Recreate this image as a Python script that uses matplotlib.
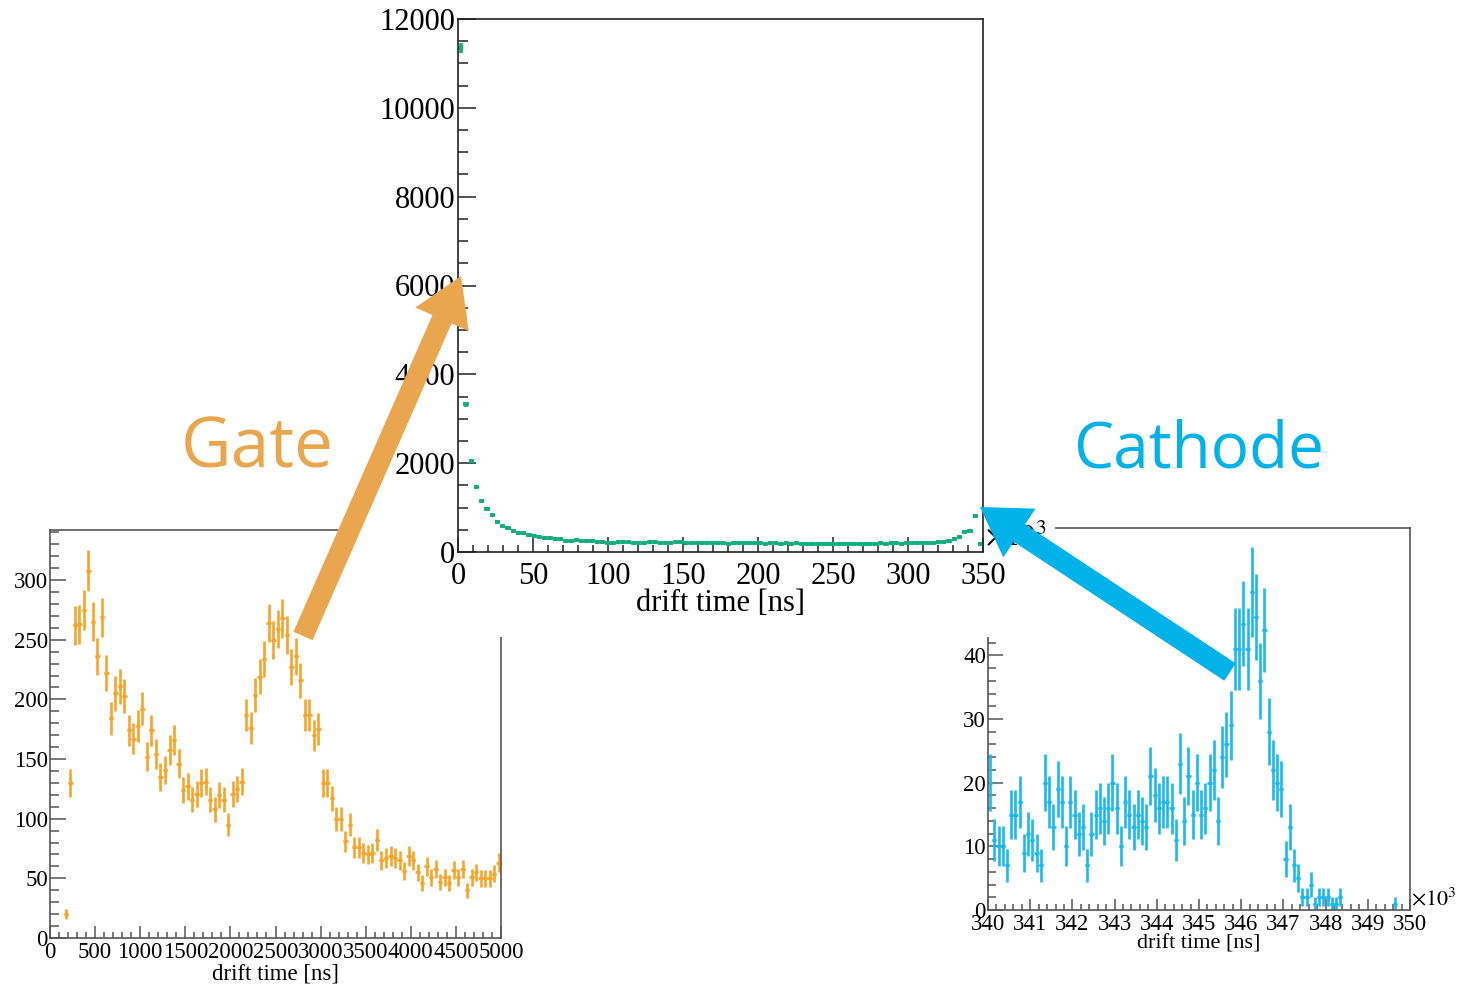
import matplotlib.pyplot as plt
import matplotlib.patches as mpatches
import numpy as np

plt.rcParams['font.family'] = 'Liberation Serif'
plt.rcParams['mathtext.fontset'] = 'stix'

# all three histograms have 100 bins
# main: drift time 0 - 350 (x10^3 ns)
main_counts = [11350, 3330, 2050, 1470, 1155, 970, 826, 668, 585, 533,
               480, 420, 420, 375, 360, 345, 323, 308, 300, 285,
               250, 248, 270, 255, 248, 255, 232, 235, 205, 210,
               222, 232, 222, 210, 200, 205, 215, 225, 212, 200,
               205, 215, 218, 210, 198, 200, 210, 205, 195, 208,
               200, 190, 198, 210, 200, 192, 205, 198, 188, 200,
               195, 185, 192, 188, 195, 185, 180, 190, 186, 178,
               185, 190, 180, 175, 185, 178, 182, 190, 185, 180,
               192, 188, 200, 195, 190, 205, 198, 192, 210, 200,
               205, 215, 235, 255, 290, 345, 440, 475, 810, 190]

# gate: drift time 0 - 5000 ns
gate_counts = [0, 0, 0, 20, 130, 262, 263, 275, 308, 265,
               236, 269, 222, 184, 205, 211, 203, 174, 167, 178,
               192, 152, 174, 154, 135, 141, 158, 166, 146, 124,
               127, 116, 121, 130, 131, 116, 108, 120, 116, 95,
               121, 125, 131, 187, 176, 204, 219, 234, 264, 250,
               259, 268, 254, 227, 236, 216, 187, 187, 170, 175,
               130, 130, 117, 100, 100, 81, 95, 76, 76, 71,
               70, 71, 82, 65, 67, 69, 67, 65, 56, 69,
               65, 55, 46, 60, 51, 58, 47, 51, 46, 57,
               51, 58, 40, 51, 55, 50, 50, 50, 54, 63]

# cathode: drift time 340 - 350 (x10^3 ns)
cath_counts = [20, 11, 10, 10, 7, 15, 15, 17, 9, 12,
               11, 9, 7, 20, 17, 13, 19, 17, 10, 17,
               15, 12, 13, 7, 12, 15, 16, 14, 16, 20,
               16, 10, 17, 15, 13, 15, 14, 13, 21, 18,
               16, 17, 17, 16, 11, 23, 14, 21, 15, 20,
               15, 16, 20, 22, 14, 24, 26, 29, 41, 41,
               45, 41, 50, 46, 36, 44, 28, 22, 20, 19,
               8, 13, 7, 5, 2, 2, 4, 1, 2, 2,
               2, 1, 1, 2, 0, 0, 0, 0, 0, 0,
               0, 0, 0, 0, 0, 0, 1, 0, 0, 0]

main_color = '#14ae7e'
gate_color = '#f6a52c'
cath_color = '#1bb9ec'
gate_arrow = '#e9a64e'
cath_arrow = '#00b2e8'

W, H = 1457.0, 989.0
fig = plt.figure(figsize=(W / 100, H / 100), dpi=100)


# pixel box (left, top, right, bottom) -> figure fraction rect
def frac(l, t, r, b):
    return [l / W, 1 - b / H, (r - l) / W, (b - t) / H]


def draw_hist(ax, lo, hi, counts, color, lw, ms, marker='o'):
    counts = np.array(counts, dtype=float)
    edges = np.linspace(lo, hi, len(counts) + 1)
    centers = 0.5 * (edges[:-1] + edges[1:])
    half = 0.5 * (edges[1] - edges[0])
    m = counts > 0
    ax.errorbar(centers[m], counts[m], yerr=np.sqrt(counts[m]), xerr=half,
                fmt=marker, color=color, ms=ms, mew=0, elinewidth=lw, capsize=0)
    ax.set_xlim(lo, hi)


def style(ax, fs, xmaj, xmin, ymaj, ymin, spine_col, xpad, ypad):
    for s in ax.spines.values():
        s.set_color(spine_col)
        s.set_linewidth(1.2)
    ax.tick_params(which='both', direction='in', top=False, right=False,
                   color=spine_col, width=1.1, labelsize=fs)
    ax.tick_params(axis='x', which='major', length=xmaj, pad=xpad)
    ax.tick_params(axis='x', which='minor', length=xmin)
    ax.tick_params(axis='y', which='major', length=ymaj, pad=ypad)
    ax.tick_params(axis='y', which='minor', length=ymin)


# gate histogram (bottom left)
ax_g = fig.add_axes(frac(50, 530, 501, 938))
ax_g.set_zorder(0)
draw_hist(ax_g, 0, 5000, gate_counts, gate_color, 1.9, 3)
ax_g.set_ylim(0, 342)
ax_g.set_xticks(np.arange(0, 5001, 500))
ax_g.set_xticks(np.arange(0, 5001, 100), minor=True)
ax_g.set_yticks(np.arange(0, 301, 50))
ax_g.set_yticks(np.arange(0, 341, 10), minor=True)
style(ax_g, 16.5, 8.6, 4.3, 11.5, 6.5, '#555555', 3, 1.5)
ax_g.set_xlabel('drift time [ns]', fontsize=16.5)
ax_g.xaxis.set_label_coords(0.5, -0.062)

# cathode histogram (bottom right)
ax_c = fig.add_axes(frac(988, 528, 1410, 910))
ax_c.set_zorder(0)
draw_hist(ax_c, 340, 350, cath_counts, cath_color, 1.9, 3)
ax_c.set_ylim(0, 60)
ax_c.set_xticks(np.arange(340, 351, 1))
ax_c.set_xticks(np.arange(340, 350.01, 0.2), minor=True)
ax_c.set_yticks(np.arange(0, 61, 10))
ax_c.set_yticks(np.arange(0, 61, 2), minor=True)
style(ax_c, 16.5, 8, 4, 11, 6, '#555555', 3, 1.5)
ax_c.set_xlabel('drift time [ns]', fontsize=16)
ax_c.xaxis.set_label_coords(0.5, -0.065)
ax_c.text(1.003, 0.0, r'$\times10^{3}$', transform=ax_c.transAxes,
          fontsize=16, ha='left', va='bottom')

# white sheet behind the main histogram, hides parts of the small plots
cover = mpatches.Rectangle((338 / W, 1 - 637 / H), (1055 - 338) / W, 637 / H,
                           transform=fig.transFigure, facecolor='white',
                           edgecolor='none', zorder=1)
fig.add_artist(cover)

# main histogram (top centre)
ax_m = fig.add_axes(frac(458, 19, 983, 552))
ax_m.set_zorder(2)
draw_hist(ax_m, 0, 350, main_counts, main_color, 2.6, 3.4, marker='s')
ax_m.set_ylim(0, 12000)
ax_m.set_xticks(np.arange(0, 351, 50))
ax_m.set_xticks(np.arange(0, 351, 10), minor=True)
ax_m.set_yticks(np.arange(0, 12001, 2000))
ax_m.set_yticks(np.arange(0, 12001, 500), minor=True)
style(ax_m, 22, 10.8, 5, 13, 7.2, '#222222', 7, 2)
ax_m.set_xlabel('drift time [ns]', fontsize=22)
ax_m.xaxis.set_label_coords(0.5, -0.07)
ax_m.text(1.003, 0.0, r'$\times10^{3}$', transform=ax_m.transAxes,
          fontsize=22, ha='left', va='bottom')


# arrows, in figure pixels (y measured from the top)
def arrow(x0, y0, x1, y1, color):
    a = mpatches.FancyArrowPatch((x0 / W, 1 - y0 / H), (x1 / W, 1 - y1 / H),
                                 transform=fig.transFigure,
                                 arrowstyle='simple,head_length=34,head_width=42,tail_width=15',
                                 mutation_scale=1, shrinkA=0, shrinkB=0,
                                 color=color, lw=0, zorder=3)
    fig.add_artist(a)


arrow(303, 636, 461, 276, gate_arrow)
arrow(1230, 672, 980, 507, cath_arrow)

fig.text(257 / W, 1 - 449 / H, 'Gate', fontsize=50, family='Open Sans',
         color=gate_arrow, ha='center', va='center', zorder=3)
fig.text(1199 / W, 1 - 450 / H, 'Cathode', fontsize=46, family='Open Sans',
         color=cath_arrow, ha='center', va='center', zorder=3)

fig.savefig('out.png', dpi=100, facecolor='white')
